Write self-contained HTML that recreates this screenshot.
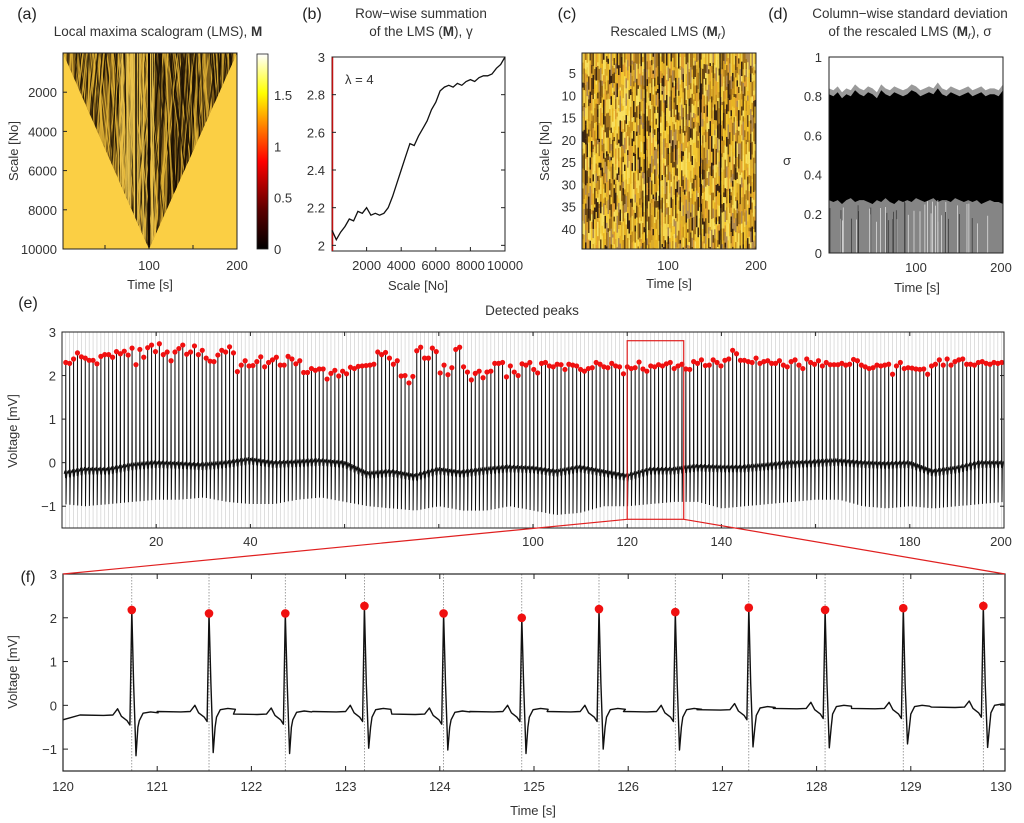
<!DOCTYPE html>
<html><head><meta charset="utf-8"><style>
html,body{margin:0;padding:0;background:#fff;}
svg{display:block;font-family:"Liberation Sans",sans-serif;}
.t{font-size:13px;fill:#333;}
.ti{font-size:13.5px;fill:#333;}
.pl{font-size:16px;fill:#222;}
</style></head><body>
<svg id="fig" width="1024" height="823" viewBox="0 0 1024 823" xmlns="http://www.w3.org/2000/svg">
<defs>
<linearGradient id="hot" x1="0" y1="1" x2="0" y2="0">
<stop offset="0" stop-color="#000"/><stop offset="0.2" stop-color="#5a0000"/><stop offset="0.45" stop-color="#ff0000"/>
<stop offset="0.62" stop-color="#ff7a00"/><stop offset="0.8" stop-color="#ffff00"/><stop offset="1" stop-color="#fff"/>
</linearGradient>
<clipPath id="triA"><polygon points="63,53 237,53 149,249"/></clipPath>
<clipPath id="clipC"><rect x="582" y="53" width="174" height="196"/></clipPath>
<clipPath id="clipE"><rect x="62" y="332" width="942" height="196"/></clipPath>
<clipPath id="clipF"><rect x="63" y="574" width="942" height="197"/></clipPath>
</defs>
<g id="root"></g>
</svg>
<script>
// ---------- data ----------
const bScale = [0,250,500,750,1000,1250,1500,1750,2000,2250,2500,2750,3000,3250,3500,3750,4000,4250,4500,4750,5000,5250,5500,5750,6000,6250,6500,6750,7000,7250,7500,7750,8000,8250,8500,8750,9000,9250,9500,9750,10000];
const bGamma = [2.08,2.03,2.07,2.1,2.14,2.13,2.18,2.17,2.2,2.16,2.17,2.16,2.17,2.2,2.26,2.33,2.4,2.47,2.54,2.53,2.58,2.62,2.66,2.72,2.76,2.82,2.84,2.85,2.84,2.86,2.85,2.87,2.88,2.87,2.89,2.9,2.9,2.91,2.94,2.96,3.0];
const dTime = [0,5,10,15,20,25,30,35,40,45,50,55,60,65,70,75,80,85,90,95,100,105,110,115,120,125,130,135,140,145,150,155,160,165,170,175,180,185,190,195,200];
const dUpper = [0.84,0.83,0.85,0.82,0.84,0.83,0.86,0.84,0.83,0.85,0.84,0.82,0.86,0.84,0.83,0.85,0.84,0.83,0.84,0.86,0.85,0.83,0.84,0.85,0.84,0.87,0.84,0.83,0.85,0.84,0.83,0.84,0.85,0.83,0.84,0.85,0.83,0.84,0.84,0.83,0.86];
const dLower = [0.27,0.26,0.27,0.25,0.27,0.28,0.26,0.27,0.27,0.26,0.25,0.27,0.26,0.28,0.26,0.25,0.27,0.26,0.27,0.26,0.28,0.27,0.26,0.27,0.28,0.26,0.27,0.27,0.26,0.28,0.27,0.26,0.27,0.26,0.27,0.25,0.26,0.27,0.26,0.26,0.25];
const ePeaks = [2.3,2.28,2.38,2.52,2.43,2.4,2.35,2.35,2.27,2.44,2.48,2.48,2.42,2.55,2.5,2.56,2.47,2.63,2.25,2.6,2.42,2.64,2.7,2.55,
2.73,2.48,2.54,2.34,2.54,2.62,2.7,2.49,2.54,2.68,2.48,2.58,2.4,2.33,2.32,2.47,2.58,2.54,2.66,2.52,2.09,2.24,2.34,2.22,
2.23,2.32,2.43,2.2,2.3,2.36,2.42,2.24,2.24,2.44,2.38,2.27,2.34,2.07,2.07,2.16,2.12,2.15,2.15,1.92,2.05,2.12,1.99,2.1,
2.04,2.19,2.16,2.21,2.22,2.23,2.24,2.26,2.54,2.48,2.53,2.4,2.26,2.34,1.99,2.0,1.83,1.98,2.57,2.65,2.4,2.4,2.63,2.55,
2.06,2.24,2.02,2.18,2.6,2.65,2.2,2.08,1.9,2.05,2.1,1.95,2.08,2.1,2.28,2.28,2.3,1.97,2.22,2.08,2.0,2.27,2.24,2.3,
2.14,2.06,2.28,2.3,2.22,2.2,2.26,2.25,2.14,2.26,2.24,2.22,2.14,2.1,2.16,2.18,2.3,2.26,2.2,2.18,2.28,2.22,2.2,2.04,
2.2,2.16,2.18,2.31,2.15,2.1,2.22,2.2,2.25,2.22,2.27,2.3,2.16,2.22,2.26,2.15,2.14,2.32,2.28,2.36,2.23,2.24,2.36,2.3,
2.22,2.35,2.38,2.58,2.5,2.35,2.35,2.32,2.3,2.4,2.28,2.32,2.34,2.28,2.28,2.34,2.24,2.2,2.32,2.36,2.24,2.16,2.38,2.3,
2.26,2.34,2.22,2.3,2.25,2.25,2.25,2.28,2.24,2.26,2.37,2.34,2.24,2.2,2.16,2.18,2.24,2.22,2.24,2.26,2.03,2.22,2.3,2.16,
2.18,2.17,2.15,2.14,2.15,2.03,2.22,2.26,2.36,2.24,2.38,2.24,2.32,2.36,2.38,2.26,2.26,2.24,2.3,2.32,2.28,2.26,2.3,2.28,2.3];
const eStart = 0.8, eRR = 0.828;
const eBase = [-0.25,-0.15,-0.15,-0.05,0.0,-0.02,-0.05,0.0,0.08,0.0,0.02,0.05,0.0,-0.25,-0.2,-0.3,-0.15,-0.22,-0.15,-0.1,-0.12,-0.2,-0.1,-0.2,-0.3,-0.15,-0.15,-0.08,-0.1,-0.1,-0.05,0.0,0.02,0.05,0.0,-0.02,0.0,-0.2,-0.12,0.0,0.0];
const eTrough = [-0.95,-1.0,-0.95,-0.9,-0.85,-0.85,-0.8,-0.9,-0.95,-0.95,-0.85,-0.8,-0.9,-1.0,-1.05,-1.1,-1.0,-1.1,-1.1,-1.0,-1.1,-1.2,-1.15,-1.0,-1.0,-0.95,-0.9,-0.9,-1.05,-1.0,-0.95,-0.9,-0.85,-0.85,-1.0,-1.05,-1.0,-1.05,-1.0,-0.95,-0.9];
const fTimes = [120.73,121.55,122.36,123.2,124.04,124.87,125.69,126.5,127.28,128.09,128.92,129.77];
const fPeaks = [2.18,2.1,2.1,2.27,2.1,2.0,2.2,2.13,2.23,2.18,2.22,2.27];
const fTrough = [-1.15,-1.08,-1.1,-0.98,-1.02,-1.1,-1.0,-1.02,-0.95,-0.97,-0.88,-0.96];
const fBase = [-0.2,-0.12,-0.18,-0.12,-0.18,-0.12,-0.12,-0.12,-0.08,-0.05,-0.05,-0.02];

// ---------- helpers ----------
const NS='http://www.w3.org/2000/svg';
const root=document.getElementById('root');
function mk(tag,attrs,parent){const e=document.createElementNS(NS,tag);for(const k in attrs)e.setAttribute(k,attrs[k]);(parent||root).appendChild(e);return e;}
function txt(x,y,s,cls,anchor,parent){const e=mk('text',{x:x,y:y,class:cls,'text-anchor':anchor||'middle'},parent);e.textContent=s;return e;}
function lin(d0,d1,r0,r1){return v=>r0+(v-d0)/(d1-d0)*(r1-r0);}
function interp(xs,ys,x){if(x<=xs[0])return ys[0];for(let i=1;i<xs.length;i++){if(x<=xs[i]){const f=(x-xs[i-1])/(xs[i]-xs[i-1]);return ys[i-1]+f*(ys[i]-ys[i-1]);}}return ys[ys.length-1];}
let seed=7;function rnd(){seed=(seed*16807)%2147483647;return seed/2147483647;}

// ---------- labels ----------
let g;
g=mk('g',{});
txt(27,19,'(a)','pl','middle',g);txt(312,19,'(b)','pl','middle',g);txt(567,19,'(c)','pl','middle',g);txt(778,19,'(d)','pl','middle',g);
txt(28,308,'(e)','pl','middle',g);txt(28,582,'(f)','pl','middle',g);

// ---------- (a) ----------
const pa=mk('g',{});
const tA=txt(158,36,'Local maxima scalogram (LMS), ','ti','middle',pa);const tb=mk('tspan',{'font-weight':'bold'},tA);tb.textContent='M';

mk('rect',{x:63,y:53,width:174,height:196,fill:'#fbcf44'},pa);
const tri=mk('g',{'clip-path':'url(#triA)'},pa);
mk('rect',{x:63,y:53,width:174,height:196,fill:'#7a5a18'},tri);
seed=11;
for(let i=0;i<260;i++){const x=63+rnd()*174;const dx=(rnd()-0.5)*60;const c=rnd()<0.5?'#1a0f04':'#e8b838';
mk('line',{x1:x,y1:53,x2:x+dx,y2:249,stroke:c,'stroke-width':0.5+rnd()*1.3,opacity:0.8},tri);}
for(let i=0;i<40;i++){const x=120+rnd()*35;mk('line',{x1:x,y1:53,x2:x+(rnd()-0.5)*10,y2:249,stroke:'#f0c850','stroke-width':1,opacity:0.7},tri);}
mk('line',{x1:136,y1:53,x2:136,y2:249,stroke:'#140a02','stroke-width':1.5},tri);
mk('line',{x1:149,y1:53,x2:149,y2:249,stroke:'#140a02','stroke-width':2},tri);
mk('rect',{x:63,y:53,width:174,height:196,fill:'none',stroke:'#222','stroke-width':1},pa);
const yA=lin(0,10000,53,249);
[2000,4000,6000,8000,10000].forEach(v=>{txt(57,yA(v)+5,String(v),'t','end',pa);mk('line',{x1:63,y1:yA(v),x2:67,y2:yA(v),stroke:'#222'},pa);});
const xA=lin(0,200,61,237);
[100,200].forEach(v=>txt(xA(v),270,String(v),'t','middle',pa));
[50,100,150].forEach(v=>mk('line',{x1:xA(v),y1:249,x2:xA(v),y2:245,stroke:'#222'},pa));
txt(150,289,'Time [s]','t','middle',pa);
const sA=txt(0,0,'Scale [No]','t','middle',pa);sA.setAttribute('transform','translate(18,151) rotate(-90)');
const cb=mk('g',{},pa);
mk('rect',{x:257,y:54,width:11,height:195,fill:'url(#hot)',stroke:'#222','stroke-width':0.8},cb);
const yCb=lin(0,1.9,249,54);
[[0,'0'],[0.5,'0.5'],[1,'1'],[1.5,'1.5']].forEach(p=>{txt(274,yCb(p[0])+5,p[1],'t','start',cb);});

// ---------- (b) ----------
const pb=mk('g',{});
txt(421,18,'Row\u2212wise summation','ti','middle',pb);
const tB=txt(421,36,'of the LMS (','ti','middle',pb);let s1=mk('tspan',{'font-weight':'bold'},tB);s1.textContent='M';let s2=mk('tspan',{},tB);s2.textContent='), \u03b3';
const xB=lin(0,10000,332,505), yB=lin(1.97,3,251,57);
mk('rect',{x:332,y:57,width:173,height:194,fill:'#fff',stroke:'#222','stroke-width':1},pb);
mk('line',{x1:332.5,y1:57,x2:332.5,y2:251,stroke:'#c01010','stroke-width':1.5},pb);
let dB='';bScale.forEach((s,i)=>{dB+=(i?'L':'M')+xB(s).toFixed(1)+','+yB(bGamma[i]).toFixed(1);});
const lnB=mk('path',{d:dB,fill:'none',stroke:'#111','stroke-width':1.3},pb);
[2,2.2,2.4,2.6,2.8,3].forEach(v=>{txt(325,yB(v)+5,String(v),'t','end',pb);mk('line',{x1:332,y1:yB(v),x2:336,y2:yB(v),stroke:'#222'},pb);mk('line',{x1:505,y1:yB(v),x2:501,y2:yB(v),stroke:'#222'},pb);});
[2000,4000,6000,8000,10000].forEach(v=>{txt(xB(v),270,String(v),'t','middle',pb);mk('line',{x1:xB(v),y1:251,x2:xB(v),y2:247,stroke:'#222'},pb);});
txt(418,290,'Scale [No]','t','middle',pb);
txt(345,84,'\u03bb = 4','t','start',pb);

// ---------- (c) ----------
const pc=mk('g',{});
const tC=txt(668,36,'Rescaled LMS (','ti','middle',pc);s1=mk('tspan',{'font-weight':'bold'},tC);s1.textContent='M';s2=mk('tspan',{'font-size':'10','dy':'3','font-style':'italic'},tC);s2.textContent='r';s2=mk('tspan',{'dy':'-3'},tC);s2.textContent=')';
const hc=mk('g',{'clip-path':'url(#clipC)'},pc);
mk('rect',{x:582,y:53,width:174,height:196,fill:'#d8a428'},hc);
const pal=['#f4c830','#e8b424','#c8921e','#a4741c','#f8e060','#6a4812','#3a2410','#dcac2c','#b08a50','#f0d048','#e0a030','#f6d850'];
seed=3;
for(let x=582;x<756;x+=1.5){let y=53;while(y<249){const h=3+rnd()*14;let c=pal[Math.floor(rnd()*pal.length)];mk('rect',{x:x,y:y,width:1.6,height:h,fill:c},hc);y+=h;}}
[645,659,700,720].forEach(x=>mk('line',{x1:x,y1:53,x2:x+1,y2:249,stroke:'#1a0e06','stroke-width':1.2},hc));
mk('rect',{x:582,y:53,width:174,height:196,fill:'none',stroke:'#222','stroke-width':1},pc);
const yC=lin(0.5,44.5,53,249);
[5,10,15,20,25,30,35,40].forEach(v=>txt(576,yC(v)+5,String(v),'t','end',pc));
const xC=lin(0,200,580,756);
[100,200].forEach(v=>txt(xC(v),270,String(v),'t','middle',pc));
txt(669,288,'Time [s]','t','middle',pc);
const sC=txt(0,0,'Scale [No]','t','middle',pc);sC.setAttribute('transform','translate(549,151) rotate(-90)');

// ---------- (d) ----------
const pd=mk('g',{});
txt(910,18,'Column\u2212wise standard deviation','ti','middle',pd);
const tD=txt(910,36,'of the rescaled LMS (','ti','middle',pd);s1=mk('tspan',{'font-weight':'bold'},tD);s1.textContent='M';s2=mk('tspan',{'font-size':'10','dy':'3','font-style':'italic'},tD);s2.textContent='r';s2=mk('tspan',{'dy':'-3'},tD);s2.textContent='), \u03c3';
const xD=lin(0,200,829,1003), yD=lin(0,1,253,57);
mk('rect',{x:829,y:57,width:174,height:196,fill:'#fff'},pd);
let up='M'+xD(0)+','+yD(0);dTime.forEach((t,i)=>{up+='L'+xD(t).toFixed(1)+','+yD(dUpper[i]).toFixed(1);});up+='L'+xD(200)+','+yD(0)+'Z';
mk('path',{d:up,fill:'#9a9a9a'},pd);
let bk='M'+xD(0)+','+yD(0);dTime.forEach((t,i)=>{bk+='L'+xD(t).toFixed(1)+','+yD(dUpper[i]-0.03).toFixed(1);});bk+='L'+xD(200)+','+yD(0)+'Z';
const bkE=mk('path',{d:bk,fill:'#000'},pd);
let gr='M'+xD(0)+','+yD(0);dTime.forEach((t,i)=>{gr+='L'+xD(t).toFixed(1)+','+yD(dLower[i]).toFixed(1);});gr+='L'+xD(200)+','+yD(0)+'Z';
mk('path',{d:gr,fill:'#858585'},pd);
seed=5;
for(let i=0;i<45;i++){const x=830+rnd()*172;mk('line',{x1:x,y1:yD(0),x2:x,y2:yD(0.15+rnd()*0.12),stroke:rnd()<0.6?'#e8e8e8':'#333','stroke-width':0.7},pd);}
mk('rect',{x:829,y:57,width:174,height:196,fill:'none',stroke:'#222','stroke-width':1},pd);
[0,0.2,0.4,0.6,0.8,1].forEach(v=>txt(822,yD(v)+5,String(v),'t','end',pd));
[100,200].forEach(v=>txt(xD(v)+(v==200?-2:0),272,String(v),'t','middle',pd));
txt(917,292,'Time [s]','t','middle',pd);
txt(787,165,'\u03c3','t','middle',pd);

// ---------- (e) ----------
const pe=mk('g',{});
txt(532,315,'Detected peaks','ti','middle',pe);
const xE=lin(0,200,62,1004), yE=lin(-1.5,3,528,332);
mk('rect',{x:62,y:332,width:942,height:196,fill:'#fff'},pe);
const ec=mk('g',{'clip-path':'url(#clipE)'},pe);
const eTimes=ePeaks.map((p,i)=>eStart+i*eRR);
eTimes.forEach(t=>mk('line',{x1:xE(t),y1:332,x2:xE(t),y2:528,stroke:'#c8c8c8','stroke-width':0.6},ec));
let dE='';
eTimes.forEach((t,i)=>{const b=interp(dTime,eBase,t), tr=interp(dTime,eTrough,t);
 const pts=[[t-0.35,b-0.02],[t-0.15,b+0.05],[t-0.04,b-0.12],[t,ePeaks[i]],[t+0.05,tr],[t+0.12,b-0.15],[t+0.3,b+0.03]];
 pts.forEach((p,j)=>{dE+=((i==0&&j==0)?'M':'L')+xE(p[0]).toFixed(2)+','+yE(p[1]).toFixed(2);});});
const lnE=mk('path',{d:dE,fill:'none',stroke:'#111','stroke-width':1},ec);
const dots=mk('g',{},ec);
eTimes.forEach((t,i)=>mk('circle',{cx:xE(t),cy:yE(ePeaks[i]),r:2.6,fill:'#f01010'},dots));
mk('rect',{x:62,y:332,width:942,height:196,fill:'none',stroke:'#222','stroke-width':1},pe);
[3,2,1,0,-1].forEach(v=>{txt(56,yE(v)+5,v<0?'\u22121':String(v),'t','end',pe);mk('line',{x1:62,y1:yE(v),x2:66,y2:yE(v),stroke:'#222'},pe);mk('line',{x1:1004,y1:yE(v),x2:1000,y2:yE(v),stroke:'#222'},pe);});
[20,40,60,80,100,120,140,160,180].forEach(v=>{mk('line',{x1:xE(v),y1:332,x2:xE(v),y2:336,stroke:'#222'},pe);mk('line',{x1:xE(v),y1:528,x2:xE(v),y2:524,stroke:'#222'},pe);});
[20,40,100,120,140,180,200].forEach(v=>txt(xE(v)+(v==200?-3:0),546,String(v),'t','middle',pe));
const vE=txt(0,0,'Voltage [mV]','t','middle',pe);vE.setAttribute('transform','translate(17,431) rotate(-90)');
const zb=mk('rect',{x:xE(120),y:yE(2.8),width:xE(132)-xE(120),height:yE(-1.3)-yE(2.8),fill:'none',stroke:'#e02020','stroke-width':1.2},pe);


// ---------- (f) ----------
const pf=mk('g',{});
const xF=lin(120,130,63,1005), yF=lin(-1.5,3,771,574);
const fc=mk('g',{'clip-path':'url(#clipF)'},pf);
fTimes.forEach(t=>mk('line',{x1:xF(t),y1:574,x2:xF(t),y2:771,stroke:'#888','stroke-width':0.8,'stroke-dasharray':'1.5,1.5'},fc));
let dF='M'+xF(120)+','+yF(-0.33);
fTimes.forEach((t,i)=>{const b=fBase[i];
 const pts=[[t-0.55,b-0.02],[t-0.3,b-0.03],[t-0.2,b-0.02],[t-0.15,b+0.12],[t-0.11,b-0.05],[t-0.05,b-0.15],[t-0.02,b-0.25],[t,fPeaks[i]],[t+0.02,0.5],[t+0.045,fTrough[i]],[t+0.065,-0.5],[t+0.08,b-0.15],[t+0.12,b+0.02],[t+0.2,b+0.05],[t+0.28,b+0.03]];
 pts.forEach(p=>{dF+='L'+xF(p[0]).toFixed(1)+','+yF(p[1]).toFixed(1);});});
dF+='L'+xF(130.1)+','+yF(0);
const lnF=mk('path',{d:dF,fill:'none',stroke:'#111','stroke-width':1.4,'stroke-linejoin':'round'},fc);
const fd=mk('g',{},fc);
fTimes.forEach((t,i)=>mk('circle',{cx:xF(t),cy:yF(fPeaks[i]),r:4.3,fill:'#f01010'},fd));
mk('rect',{x:63,y:574,width:942,height:197,fill:'none',stroke:'#222','stroke-width':1.2},pf);
[3,2,1,0,-1].forEach(v=>{txt(57,yF(v)+5,v<0?'\u22121':String(v),'t','end',pf);mk('line',{x1:63,y1:yF(v),x2:68,y2:yF(v),stroke:'#222'},pf);mk('line',{x1:1005,y1:yF(v),x2:1000,y2:yF(v),stroke:'#222'},pf);});
for(let v=120;v<=130;v++){mk('line',{x1:xF(v),y1:574,x2:xF(v),y2:579,stroke:'#222'},pf);mk('line',{x1:xF(v),y1:771,x2:xF(v),y2:766,stroke:'#222'},pf);txt(xF(v)+(v==130?-4:0),791,String(v),'t','middle',pf);}
txt(533,815,'Time [s]','t','middle',pf);
const vF=txt(0,0,'Voltage [mV]','t','middle',pf);vF.setAttribute('transform','translate(17,672) rotate(-90)');

// zoom connector lines
const zl=mk('g',{});
mk('line',{x1:xE(120),y1:yE(-1.3),x2:63,y2:574,stroke:'#e02020','stroke-width':1.2},zl);
mk('line',{x1:xE(132),y1:yE(-1.3),x2:1005,y2:574,stroke:'#e02020','stroke-width':1.2},zl);
</script>
</body></html>
